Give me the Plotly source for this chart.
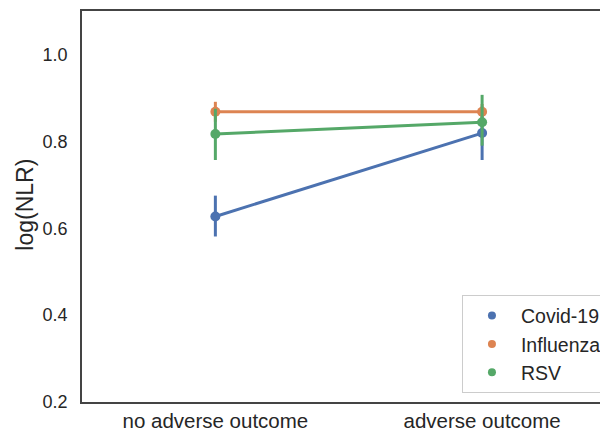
import plotly.graph_objects as go

categories = ["no adverse outcome", "adverse outcome"]
series = ["Covid-19", "Influenza", "RSV"]
means = {
    "Covid-19": [0.627, 0.819],
    "Influenza": [0.868, 0.868],
    "RSV": [0.817, 0.844],
}
ci_low = {
    "Covid-19": [0.581, 0.757],
    "Influenza": [0.845, 0.850],
    "RSV": [0.757, 0.790],
}
ci_high = {
    "Covid-19": [0.675, 0.880],
    "Influenza": [0.891, 0.886],
    "RSV": [0.875, 0.907],
}
colors = {"Covid-19": "#4C72B0", "Influenza": "#DD8452", "RSV": "#55A868"}

FONT = "Liberation Sans, Arial, sans-serif"
# page body has an 8px margin, so the figure is 600x424 to fill 608x432
W, H = 600, 424
fig = go.Figure()
xpos = list(range(len(categories)))
for s in series:
    m = means[s]
    fig.add_trace(go.Scatter(
        x=xpos, y=m, mode="lines", line=dict(color=colors[s], width=3),
        showlegend=False, hoverinfo="skip"))
    fig.add_trace(go.Scatter(
        x=xpos, y=m, mode="markers", showlegend=False,
        marker=dict(color=colors[s], size=10),
        error_y=dict(type="data", symmetric=False,
                     array=[h - v for h, v in zip(ci_high[s], m)],
                     arrayminus=[v - l for v, l in zip(m, ci_low[s])],
                     color=colors[s], thickness=3, width=0)))
for s in series:
    fig.add_trace(go.Scatter(
        x=[None], y=[None], mode="markers", name=s,
        marker=dict(color=colors[s], size=8)))

fig.update_layout(
    width=W, height=H,
    margin=dict(l=74, r=0, t=3, b=30, autoexpand=False),
    plot_bgcolor="white", paper_bgcolor="white",
    font=dict(family=FONT, size=19, color="#262626"),
    xaxis=dict(range=[-0.5, 1.472], tickvals=xpos, ticktext=categories,
               showgrid=False, zeroline=False, showline=True, mirror=True,
               linecolor="#444444", linewidth=1.5, ticks="", automargin=False,
               ticklabelstandoff=0, tickfont=dict(size=20.5)),
    yaxis=dict(range=[0.2, 1.1], tickvals=[0.2, 0.4, 0.6, 0.8, 1.0],
               tickformat=".1f", showgrid=False, zeroline=False,
               showline=True, mirror=False, linecolor="#444444", linewidth=1.5,
               ticks="", automargin=False, ticklabelstandoff=9,
               tickfont=dict(size=18)),
    annotations=[dict(text="log(NLR)", textangle=-90, xref="paper", yref="paper",
                      x=-0.110, y=0.505, xanchor="center", yanchor="middle",
                      showarrow=False, font=dict(size=23))],
    legend=dict(x=0.998, y=0.022, xanchor="right", yanchor="bottom",
                bgcolor="white", bordercolor="#cccccc", borderwidth=1,
                font=dict(size=19.5), itemsizing="trace", itemwidth=48),
)
fig.write_html("out.html")
